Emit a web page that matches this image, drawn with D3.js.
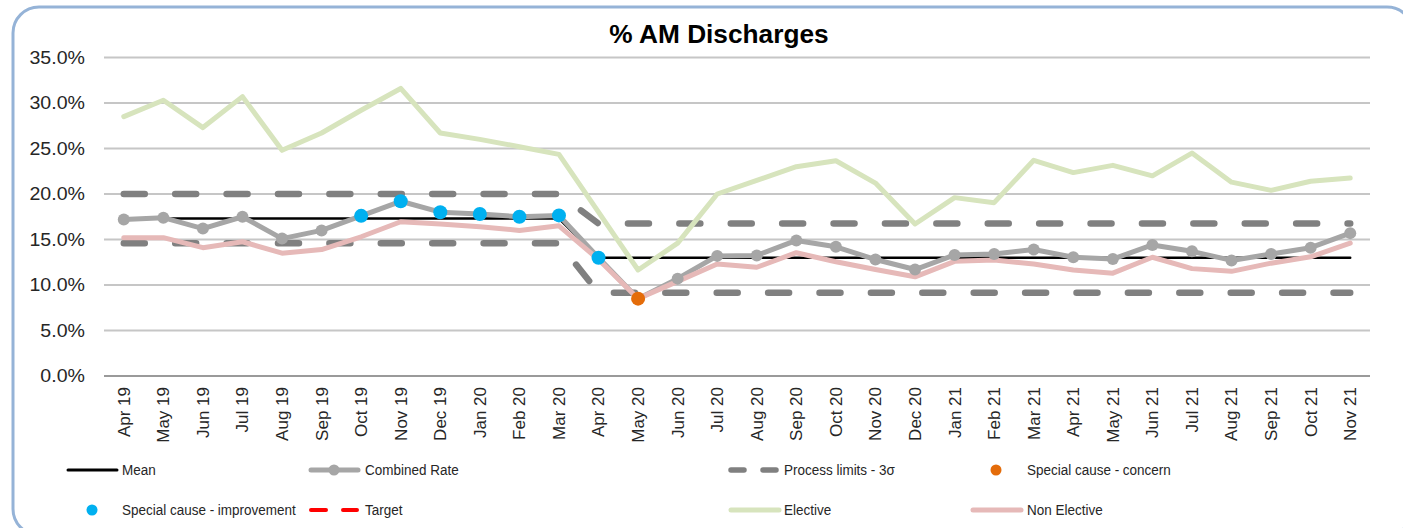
<!DOCTYPE html>
<html>
<head>
<meta charset="utf-8">
<script src="https://cdn.jsdelivr.net/npm/d3@7"></script>
<style>
  body { margin: 0; background: #fff; }
  text { font-family: "Liberation Sans", Arial, sans-serif; fill: #262626; }
</style>
</head>
<body>
<div id="chart"></div>
<script>
// data (percent)
var months = ["Apr 19","May 19","Jun 19","Jul 19","Aug 19","Sep 19","Oct 19","Nov 19","Dec 19","Jan 20","Feb 20","Mar 20",
              "Apr 20","May 20","Jun 20","Jul 20","Aug 20","Sep 20","Oct 20","Nov 20","Dec 20","Jan 21","Feb 21","Mar 21",
              "Apr 21","May 21","Jun 21","Jul 21","Aug 21","Sep 21","Oct 21","Nov 21"];

var combined = [17.2,17.4,16.2,17.5,15.1,16.0,17.6,19.2,18.0,17.8,17.5,17.65,
                13.0,8.5,10.7,13.2,13.25,14.9,14.2,12.8,11.7,13.3,13.4,13.9,
                13.05,12.85,14.4,13.7,12.7,13.4,14.1,15.7];

var elective = [28.5,30.3,27.3,30.7,24.8,26.7,29.2,31.6,26.7,26.0,25.2,24.35,
                18.0,11.65,14.6,20.0,21.5,23.0,23.65,21.2,16.7,19.6,19.05,23.7,
                22.35,23.15,22.0,24.5,21.3,20.4,21.4,21.75];

var nonElective = [15.2,15.2,14.1,14.75,13.5,13.9,15.3,16.95,16.7,16.4,16.0,16.5,
                   12.8,8.5,10.4,12.3,11.95,13.55,12.55,11.7,10.9,12.6,12.75,12.3,
                   11.65,11.3,13.05,11.8,11.5,12.4,13.1,14.6];

var mean = [17.3,17.3,17.3,17.3,17.3,17.3,17.3,17.3,17.3,17.3,17.3,17.3,
            13.0,13.0,13.0,13.0,13.0,13.0,13.0,13.0,13.0,13.0,13.0,13.0,
            13.0,13.0,13.0,13.0,13.0,13.0,13.0,13.0];

var upperLimit = [20.0,20.0,20.0,20.0,20.0,20.0,20.0,20.0,20.0,20.0,20.0,20.0,
                  16.75,16.75,16.75,16.75,16.75,16.75,16.75,16.75,16.75,16.75,16.75,16.75,
                  16.75,16.75,16.75,16.75,16.75,16.75,16.75,16.75];

var lowerLimit = [14.6,14.6,14.6,14.6,14.6,14.6,14.6,14.6,14.6,14.6,14.6,14.6,
                  9.15,9.15,9.15,9.15,9.15,9.15,9.15,9.15,9.15,9.15,9.15,9.15,
                  9.15,9.15,9.15,9.15,9.15,9.15,9.15,9.15];

var improvementMonths = ["Oct 19","Nov 19","Dec 19","Jan 20","Feb 20","Mar 20","Apr 20"];
var concernMonths = ["May 20"];

var yTicks = [0,5,10,15,20,25,30,35];

// 1: svg
var W = 1403, H = 528;
var svg = d3.select("#chart").append("svg")
    .attr("width", W)
    .attr("height", H);

// border
svg.append("rect")
    .attr("x", 13).attr("y", 7)
    .attr("width", 1400).attr("height", 528)
    .attr("rx", 26).attr("ry", 26)
    .style("fill", "#fff")
    .style("stroke", "#95b3d7")
    .style("stroke-width", 3);

// title
svg.append("text")
    .attr("transform", "translate(719,43) scale(1.05,1)")
    .attr("text-anchor", "middle")
    .style("font-size", "25px")
    .style("font-weight", "bold")
    .style("fill", "#000")
    .text("% AM Discharges");

// 2: scales
var x = d3.scalePoint()
    .domain(months)
    .range([104, 1370])
    .padding(0.5);
var y = d3.scaleLinear()
    .domain([0, 35])
    .range([376, 57.5]);

// 3: grid + y labels
svg.selectAll("line.grid")
    .data(yTicks)
    .enter().append("line")
    .attr("class", "grid")
    .attr("x1", 104).attr("x2", 1370)
    .attr("y1", function(d) { return y(d); })
    .attr("y2", function(d) { return y(d); })
    .style("stroke", function(d) { return d === 0 ? "#9a9a9a" : "#c6c6c6"; })
    .style("stroke-width", 2);

svg.selectAll("text.ylab")
    .data(yTicks)
    .enter().append("text")
    .attr("class", "ylab")
    .attr("transform", function(d) { return "translate(85," + y(d) + ") scale(1.12,1)"; })
    .attr("dy", "0.35em")
    .attr("text-anchor", "end")
    .style("font-size", "17.5px")
    .text(function(d) { return d.toFixed(1) + "%"; });

// x labels
svg.selectAll("text.xlab")
    .data(months)
    .enter().append("text")
    .attr("class", "xlab")
    .attr("transform", function(d) { return "translate(" + x(d) + ",387) rotate(-90)"; })
    .attr("dy", "0.35em")
    .attr("text-anchor", "end")
    .style("font-size", "17px")
    .text(function(d) { return d; });

// 4: lines
function lineOf(values) {
  return d3.line()
    .x(function(d, i) { return x(months[i]); })
    .y(function(d) { return y(d); })(values);
}

function drawLine(values, color, width, dash) {
  var p = svg.append("path")
    .attr("d", lineOf(values))
    .style("fill", "none")
    .style("stroke", color)
    .style("stroke-width", width)
    .style("stroke-linejoin", "round")
    .style("stroke-linecap", "round");
  if (dash) p.style("stroke-dasharray", dash);
  return p;
}

drawLine(mean, "#000", 2.5);
drawLine(combined, "#a6a6a6", 5);
drawLine(upperLimit, "#808080", 6.5, "21,30.4");
drawLine(lowerLimit, "#808080", 6.5, "21,30.4");
drawLine(elective, "#d7e4bd", 5);
drawLine(nonElective, "#e6b9b8", 5);

// markers
svg.selectAll("circle.comb")
    .data(combined)
    .enter().append("circle")
    .attr("class", "comb")
    .attr("cx", function(d, i) { return x(months[i]); })
    .attr("cy", function(d) { return y(d); })
    .attr("r", 6)
    .style("fill", "#a6a6a6");

function specialPoints(list, color) {
  svg.selectAll(null)
    .data(list)
    .enter().append("circle")
    .attr("cx", function(d) { return x(d); })
    .attr("cy", function(d) { return y(combined[months.indexOf(d)]); })
    .attr("r", 7)
    .style("fill", color);
}
specialPoints(concernMonths, "#e46c0a");
specialPoints(improvementMonths, "#00b0f0");

// 5: legend
var lg = svg.append("g");

function legendText(tx, ty, label) {
  lg.append("text")
    .attr("transform", "translate(" + tx + "," + ty + ") scale(0.87,1)")
    .attr("dy", "0.35em")
    .style("font-size", "15.5px")
    .text(label);
}
function legendLine(x1, x2, ty, color, width, dash) {
  var l = lg.append("line")
    .attr("x1", x1).attr("x2", x2)
    .attr("y1", ty).attr("y2", ty)
    .style("stroke", color)
    .style("stroke-width", width)
    .style("stroke-linecap", "round");
  if (dash) l.style("stroke-dasharray", dash);
}
function legendDot(cx, cy, color, r) {
  lg.append("circle").attr("cx", cx).attr("cy", cy).attr("r", r).style("fill", color);
}

var r1 = 470, r2 = 510;
legendLine(68, 117, r1, "#000", 3);
legendText(122, r1, "Mean");

legendLine(311, 358, r1, "#a6a6a6", 5);
legendDot(334, r1, "#a6a6a6", 5.5);
legendText(365, r1, "Combined Rate");

legendLine(731, 776, r1, "#808080", 5.5, "13,19");
legendText(784, r1, "Process limits - 3\u03c3");

legendDot(996, r1, "#e46c0a", 5.5);
legendText(1027, r1, "Special cause - concern");

legendDot(92, r2, "#00b0f0", 5.5);
legendText(122, r2, "Special cause  - improvement");

legendLine(311, 357, r2, "#ff0000", 4, "15,17");
legendText(365, r2, "Target");

legendLine(731, 779, r2, "#d7e4bd", 5);
legendText(784, r2, "Elective");

legendLine(973, 1021, r2, "#e6b9b8", 5);
legendText(1027, r2, "Non Elective");
</script>
</body>
</html>
